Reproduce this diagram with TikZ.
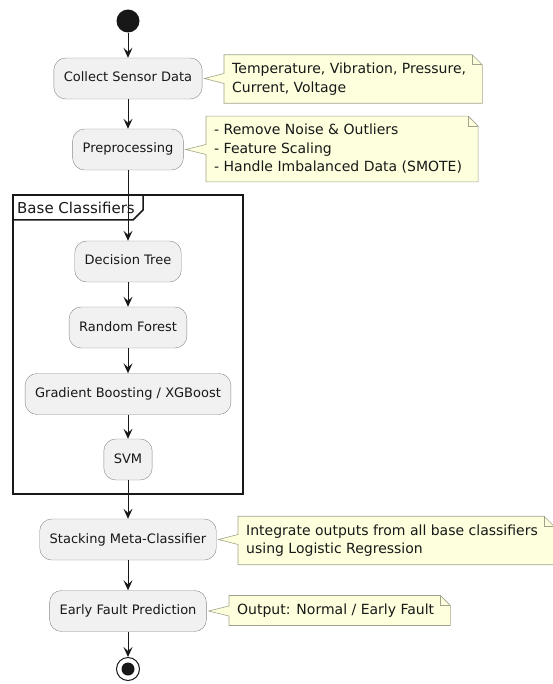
\documentclass[tikz,border=0pt]{standalone}
\usepackage{fontspec}
\setmainfont{DejaVu Sans}
\usetikzlibrary{calc,arrows.meta,backgrounds}

\definecolor{actfill}{HTML}{F1F1F1}
\definecolor{actline}{HTML}{888888}
\definecolor{notefill}{HTML}{FEFFDD}
\definecolor{noteline}{HTML}{A2A28C}
\definecolor{ink}{HTML}{181818}

% note outline: folded corner and a pointer to its activity
\newcommand{\notefold}[2]{%
  \begin{pgfonlayer}{background}
  \filldraw[notebg] (#1.north west) -- ([xshift=-2pt]#1.north east) -- ([xshift=8pt,yshift=-10pt]#1.north east) -- ([xshift=8pt]#1.south east) -- (#1.south west) -- ($(#1.west |- #2.east)+(0,-5pt)$) -- ([xshift=2pt]#2.east) -- ($(#1.west |- #2.east)+(0,5pt)$) -- cycle;
  \draw[notebg, fill=none] ([xshift=-2pt]#1.north east) |- ([xshift=8pt,yshift=-10pt]#1.north east);
  \end{pgfonlayer}}

\begin{document}
\begin{tikzpicture}[x=1pt, y=-1pt,
    act/.style={rectangle, rounded corners=12pt, draw=actline, fill=actfill, text=ink, font=\fontsize{13}{15}\selectfont, inner xsep=10pt, inner ysep=0pt, minimum height=41pt, text height=9.5pt, text depth=2.5pt},
    notetext/.style={anchor=west, align=left, text=ink, font=\fontsize{14}{18.5}\selectfont, inner xsep=8pt, inner ysep=8pt},
    notebg/.style={draw=noteline, fill=notefill, line width=0.6pt},
    flow/.style={draw=ink, line width=1pt, -{Stealth[length=10pt,width=9pt,inset=4pt]}},
    frame/.style={draw=ink, line width=1.5pt}]
        \useasboundingbox (0,0) rectangle (553,684);

        % Base classifiers frame
        \draw[frame] (13,195) rectangle (243,494);
        \draw[frame] (13,220) -- (133,220) -- (143,210) -- (143,195);
        \node[anchor=west, inner sep=0, text=ink, font=\fontsize{15}{17}\selectfont] (frametitle) at (17,207.5) {Base Classifiers};

        % Start and activities
        \node[circle, fill=ink, minimum size=23pt, inner sep=0] (start) at (128,21) {};
        \node[act] (collect) at (128,78.5) {Collect Sensor Data};
        \node[act] (preproc) at (128,149.5) {Preprocessing};
        \node[act] (dtree) at (128,261.5) {Decision Tree};
        \node[act] (rforest) at (128,327.5) {Random Forest};
        \node[act] (gboost) at (128,394) {Gradient Boosting / XGBoost};
        \node[act] (svm) at (128,459.5) {SVM};
        \node[act] (stacking) at (128,539.5) {Stacking Meta-Classifier};
        \node[act] (predict) at (128,611) {Early Fault Prediction};

        % End
        \node[circle, draw=ink, line width=1pt, fill=white, minimum size=23pt, inner sep=0] (stop) at (128,669) {};
        \fill[ink] (stop) circle (6.5pt);

        % Flow
        \draw[flow] (start) -- (collect);
        \draw[flow] (collect) -- (preproc);
        \draw[flow] (preproc) -- (dtree);
        \draw[flow] (dtree) -- (rforest);
        \draw[flow] (rforest) -- (gboost);
        \draw[flow] (gboost) -- (svm);
        \draw[flow] (svm) -- (stacking);
        \draw[flow] (stacking) -- (predict);
        \draw[flow] (predict) -- (stop);

        % Notes
        \node[notetext] (sensornote) at (224,79) {Temperature, Vibration, Pressure,\\Current, Voltage};
        \node[notetext] (prepnote) at (206,149) {- Remove Noise \& Outliers\\- Feature Scaling\\- Handle Imbalanced Data (SMOTE)};
        \node[notetext] (stacknote) at (238,540.5) {Integrate outputs from all base classifiers\\using Logistic Regression};
        \node[notetext] (outnote) at (229,610.5) {Output: Normal / Early Fault};
        \notefold{sensornote}{collect}
        \notefold{prepnote}{preproc}
        \notefold{stacknote}{stacking}
        \notefold{outnote}{predict}
\end{tikzpicture}
\end{document}
